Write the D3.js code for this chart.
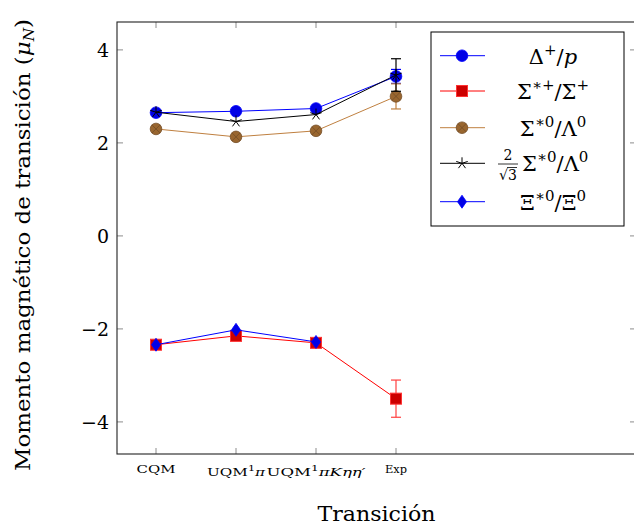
<!DOCTYPE html>
<html>
<head>
<meta charset="utf-8">
<script src="https://cdn.jsdelivr.net/npm/d3@7"></script>
<style>
  body { margin: 0; background: #fff; }
  svg text { font-family: "DejaVu Serif", "Liberation Serif", serif; fill: #000; }
</style>
</head>
<body>
<div id="chart"></div>
<script>
// categories on the x axis (index positions 0..3)
const categories = ["CQM", "UQM1pi", "UQM1piKetaeta", "Exp"];

// series values (same order as categories), error 0 = no bar
const deltaP = [2.65, 2.68, 2.74, 3.43];
const deltaPErr = [0, 0, 0, 0.15];
const sigmaPlus = [-2.34, -2.15, -2.30, -3.50];
const sigmaPlusErr = [0, 0, 0, 0.40];
const sigmaLambda = [2.30, 2.13, 2.26, 3.00];
const sigmaLambdaErr = [0, 0, 0, 0.27];
const sigmaLambdaScaled = [2.66, 2.46, 2.61, 3.46];
const sigmaLambdaScaledErr = [0, 0, 0, 0.35];
const xiZero = [-2.34, -2.02, -2.28];
const xiZeroErr = [0, 0, 0];

const yTicks = [-4, -2, 0, 2, 4];

const config = {
  width: 634,
  height: 529,
  left: 117, right: 636, top: 22, bottom: 454,
  tickLen: 6,
  font: "DejaVu Serif",
};

const series = [
  { name: "delta", values: deltaP, err: deltaPErr, line: "#0000ff", fill: "#0000e6", stroke: "#0000ff", mark: "circle" },
  { name: "sigmaPlus", values: sigmaPlus, err: sigmaPlusErr, line: "#ff0000", fill: "#cc0000", stroke: "#ff3333", mark: "square" },
  { name: "sigmaLambda", values: sigmaLambda, err: sigmaLambdaErr, line: "#bf8040", fill: "#99662f", stroke: "#734d26", mark: "otimes" },
  { name: "scaled", values: sigmaLambdaScaled, err: sigmaLambdaScaledErr, line: "#000000", fill: "none", stroke: "#000000", mark: "star" },
  { name: "xi", values: xiZero, err: xiZeroErr, line: "#0000ff", fill: "#0000e6", stroke: "#0000ff", mark: "diamond" },
];

const svg = d3.select("#chart").append("svg")
  .attr("width", config.width)
  .attr("height", config.height)
  .attr("font-family", config.font);

const x = d3.scaleLinear().domain([-0.4875, 6]).range([config.left, config.right]);
const y = d3.scaleLinear().domain([-4.69, 4.6]).range([config.bottom, config.top]);

// ticks (grey, inside, on all sides)
const tickG = svg.append("g").attr("stroke", "#8c8c8c").attr("stroke-width", 1);
yTicks.forEach(v => {
  tickG.append("line").attr("x1", config.left).attr("x2", config.left + config.tickLen)
    .attr("y1", y(v)).attr("y2", y(v));
  tickG.append("line").attr("x1", config.right - config.tickLen).attr("x2", config.right)
    .attr("y1", y(v)).attr("y2", y(v));
});
categories.forEach((c, i) => {
  tickG.append("line").attr("x1", x(i)).attr("x2", x(i))
    .attr("y1", config.bottom).attr("y2", config.bottom - config.tickLen);
  tickG.append("line").attr("x1", x(i)).attr("x2", x(i))
    .attr("y1", config.top).attr("y2", config.top + config.tickLen);
});

// frame
svg.append("rect")
  .attr("x", config.left).attr("y", config.top)
  .attr("width", config.right - config.left)
  .attr("height", config.bottom - config.top)
  .attr("fill", "none").attr("stroke", "#222").attr("stroke-width", 1.1);

// y tick labels
svg.append("g").selectAll("text")
  .data(yTicks)
  .join("text")
  .attr("x", config.left - 8)
  .attr("y", d => y(d))
  .attr("dy", "0.36em")
  .attr("text-anchor", "end")
  .attr("font-size", 19)
  .text(d => d < 0 ? "\u2212" + Math.abs(d) : d);

// x tick labels
function addXLabel(i, parts, width, shift) {
  const t = svg.append("text")
    .attr("x", x(i))
    .attr("y", config.bottom + 19 + (shift || 0))
    .attr("text-anchor", "middle")
    .attr("font-size", 11);
  parts.forEach(p => {
    const ts = t.append("tspan").text(p.t);
    if (p.sup) ts.attr("font-size", 8).attr("dy", -5);
    if (p.down) ts.attr("dy", 5);
    if (p.it) ts.attr("font-style", "italic");
  });
  if (width) t.attr("textLength", width).attr("lengthAdjust", "spacingAndGlyphs");
  return t;
}
addXLabel(0, [{ t: "CQM" }], 39);
addXLabel(1, [{ t: "UQM" }, { t: "1", sup: true }, { t: "\u03c0", it: true, down: true }], 58, 3);
addXLabel(2, [{ t: "UQM" }, { t: "1", sup: true }, { t: "\u03c0K\u03b7\u03b7\u2032", it: true, down: true }], 99, 3);
addXLabel(3, [{ t: "Exp" }], 22);

// axis titles
svg.append("text")
  .attr("x", (config.left + config.right) / 2)
  .attr("y", 521)
  .attr("text-anchor", "middle")
  .attr("font-size", 21)
  .attr("textLength", 118)
  .attr("lengthAdjust", "spacingAndGlyphs")
  .text("Transición");

const yl = svg.append("text")
  .attr("transform", `translate(30,${245}) rotate(-90)`)
  .attr("text-anchor", "middle")
  .attr("font-size", 21)
  .attr("textLength", 452)
  .attr("lengthAdjust", "spacingAndGlyphs");
yl.append("tspan").text("Momento magnético de transición (");
yl.append("tspan").attr("font-style", "italic").text("\u03bc");
yl.append("tspan").attr("font-style", "italic").attr("font-size", 14).attr("dy", 4).text("N");
yl.append("tspan").attr("dy", -4).text(")");

// marker drawing
function drawMarker(g, type, cx, cy, s) {
  if (type === "circle") {
    g.append("circle").attr("cx", cx).attr("cy", cy).attr("r", 5.8)
      .attr("fill", s.fill).attr("stroke", s.stroke).attr("stroke-width", 0.8);
  } else if (type === "square") {
    g.append("rect").attr("x", cx - 5.5).attr("y", cy - 5.5).attr("width", 11).attr("height", 11)
      .attr("fill", s.fill).attr("stroke", s.stroke).attr("stroke-width", 1);
  } else if (type === "otimes") {
    g.append("circle").attr("cx", cx).attr("cy", cy).attr("r", 5.8)
      .attr("fill", s.fill).attr("stroke", s.stroke).attr("stroke-width", 0.8);
    const d = 5.8 * Math.SQRT1_2;
    g.append("path").attr("d", `M${cx - d},${cy - d}L${cx + d},${cy + d}M${cx - d},${cy + d}L${cx + d},${cy - d}`)
      .attr("stroke", s.stroke).attr("stroke-width", 0.8);
  } else if (type === "star") {
    const pts = d3.range(5).map(k => {
      const a = -Math.PI / 2 + k * 2 * Math.PI / 5;
      return `M${cx},${cy}L${cx + 6 * Math.cos(a)},${cy + 6 * Math.sin(a)}`;
    }).join("");
    g.append("path").attr("d", pts).attr("stroke", s.stroke).attr("stroke-width", 1).attr("fill", "none");
  } else if (type === "diamond") {
    g.append("path").attr("d", `M${cx},${cy - 6.5}L${cx + 4.5},${cy}L${cx},${cy + 6.5}L${cx - 4.5},${cy}Z`)
      .attr("fill", s.fill).attr("stroke", s.stroke).attr("stroke-width", 0.8);
  }
}

const line = d3.line().x((d, i) => x(i)).y(d => y(d));
const plotG = svg.append("g");

series.forEach(s => {
  const g = plotG.append("g").attr("class", s.name);
  g.append("path")
    .datum(s.values)
    .attr("d", line)
    .attr("fill", "none")
    .attr("stroke", s.line)
    .attr("stroke-width", 1);
  s.values.forEach((v, i) => {
    const e = s.err[i];
    if (e) {
      const col = s.mark === "square" ? "#ff4040" : s.line;
      const eg = g.append("g").attr("stroke", col).attr("stroke-width", 1.2);
      eg.append("line").attr("x1", x(i)).attr("x2", x(i)).attr("y1", y(v - e)).attr("y2", y(v + e));
      [v - e, v + e].forEach(w => {
        eg.append("line").attr("x1", x(i) - 5).attr("x2", x(i) + 5).attr("y1", y(w)).attr("y2", y(w));
      });
    }
    drawMarker(g, s.mark, x(i), y(v), s);
  });
});

// legend
const legend = svg.append("g");
legend.append("rect")
  .attr("x", 431).attr("y", 32).attr("width", 193).attr("height", 194)
  .attr("fill", "#fff").attr("stroke", "#000").attr("stroke-width", 1);

const legendY = [55.7, 91, 127.7, 163.3, 201.7];
const legendLabels = [
  [{ t: "\u0394" }, { t: "+", sup: true }, { t: "/", down: true }, { t: "p", it: true }],
  [{ t: "\u03a3" }, { t: "\u2217+", sup: true }, { t: "/\u03a3", down: true }, { t: "+", sup: true }],
  [{ t: "\u03a3" }, { t: "\u22170", sup: true }, { t: "/\u039b", down: true }, { t: "0", sup: true }],
  [{ t: "\u03a3" }, { t: "\u22170", sup: true }, { t: "/\u039b", down: true }, { t: "0", sup: true }],
  [{ t: "\u039e" }, { t: "\u22170", sup: true }, { t: "/\u039e", down: true }, { t: "0", sup: true }],
];

series.forEach((s, k) => {
  const ly = legendY[k];
  legend.append("line")
    .attr("x1", 440).attr("x2", 485).attr("y1", ly).attr("y2", ly)
    .attr("stroke", s.line).attr("stroke-width", 1);
  drawMarker(legend, s.mark, 462, ly, s);
  const t = legend.append("text")
    .attr("x", k === 3 ? 522 : 553).attr("y", ly + 8)
    .attr("text-anchor", k === 3 ? "start" : "middle")
    .attr("font-size", 21);
  legendLabels[k].forEach(p => {
    const ts = t.append("tspan").text(p.t);
    if (p.sup) ts.attr("font-size", 15).attr("dy", -9);
    if (p.down) ts.attr("dy", 9);
    if (p.it) ts.attr("font-style", "italic");
  });
});

// the 2/sqrt(3) prefix of the fourth entry
const fx = 508;
legend.append("text").attr("x", fx).attr("y", 160).attr("text-anchor", "middle")
  .attr("font-size", 14).text("2");
legend.append("line").attr("x1", fx - 10).attr("x2", fx + 10).attr("y1", 164).attr("y2", 164)
  .attr("stroke", "#000").attr("stroke-width", 0.8);
legend.append("text").attr("x", fx).attr("y", 180).attr("text-anchor", "middle")
  .attr("font-size", 14).text("\u221a3");
legend.append("line").attr("x1", fx - 1).attr("x2", fx + 9).attr("y1", 167.5).attr("y2", 167.5)
  .attr("stroke", "#000").attr("stroke-width", 0.8);
</script>
</body>
</html>
